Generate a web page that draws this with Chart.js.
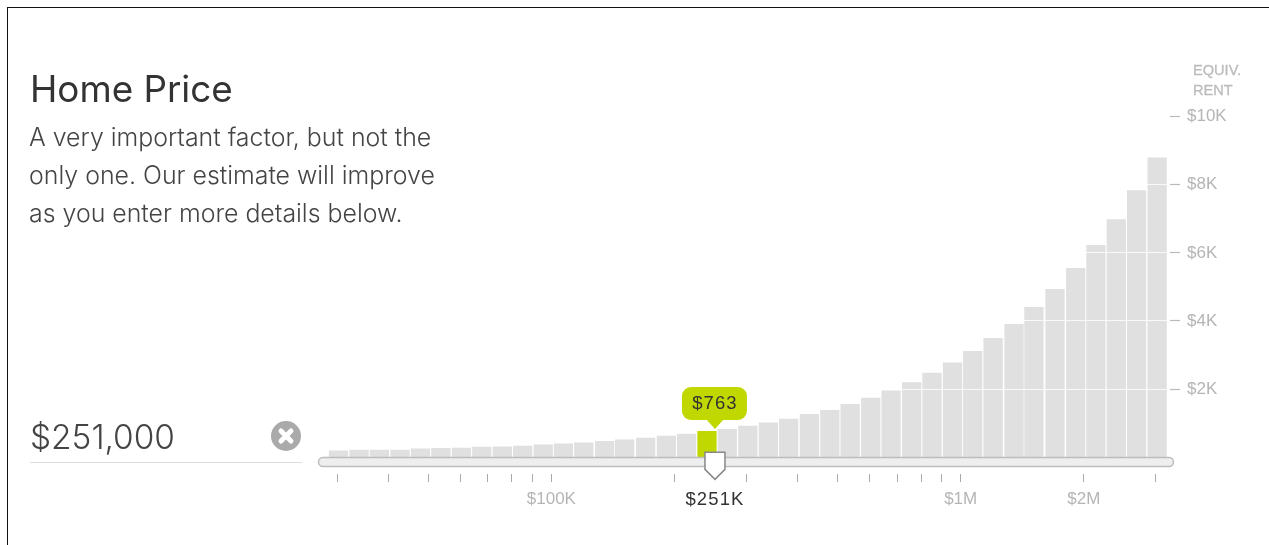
<!DOCTYPE html>
<html>
<head>
<meta charset="utf-8">
<title>Home Price</title>
<script src="https://cdn.jsdelivr.net/npm/chart.js@4"></script>
<style>
html, body { margin: 0; padding: 0; background: #fff; overflow: hidden; }
#wrap { position: relative; width: 1269px; height: 545px; }
#chart { position: absolute; left: 0; top: 0; }
#frame { position: absolute; left: 7px; top: 7px; right: 0; bottom: 0; border-left: 1px solid #111; border-top: 1px solid #111; }
#title { position: absolute; left: 30px; top: 66px; font: 400 36.8px Inter, sans-serif; color: #333; white-space: nowrap; }
#desc { position: absolute; left: 29px; top: 118px; font: 300 24.9px/38px Inter, sans-serif; color: #444; white-space: nowrap; }
#price { position: absolute; left: 30px; top: 417px; font: 300 33.4px Inter, sans-serif; color: #444; }
#rule { position: absolute; left: 30px; top: 462px; width: 272px; height: 1px; background: #ddd; }
#clear { position: absolute; left: 271px; top: 421px; }
#rent { position: absolute; left: 1193px; top: 60px; font: 400 14.6px/20px "Liberation Sans", sans-serif; color: #bbb; -webkit-text-stroke: 0.3px #bbb; }
</style>
</head>
<body>
<div id="wrap">
  <canvas id="chart" width="1269" height="545"></canvas>
  <div id="frame"></div>
  <div id="title">Home Price</div>
  <div id="desc">A very important factor, but not the<br>only one. Our estimate will improve<br>as you enter more details below.</div>
  <div id="price">$251,000</div>
  <div id="rule"></div>
  <svg id="clear" width="30" height="30" viewBox="0 0 30 30">
    <circle cx="15" cy="15" r="15" fill="#aaa"/>
    <path d="M10 10 L20 20 M20 10 L10 20" stroke="#fff" stroke-width="5" stroke-linecap="round"/>
  </svg>
  <div id="rent">EQUIV.<br>RENT</div>
</div>
<script>
// bin centres along the price slider
const priceBins = [30200, 33900, 38000, 42700, 47900, 53700, 60300, 67600, 75900, 85100,
  95500, 107000, 120000, 135000, 151000, 170000, 191000, 214000, 240000, 269000,
  302000, 339000, 380000, 427000, 479000, 537000, 603000, 676000, 759000, 851000,
  955000, 1070000, 1200000, 1350000, 1510000, 1700000, 1910000, 2140000, 2400000, 2690000, 3020000];
const rentValues = [193, 214, 214, 214, 252, 264, 272, 302, 310, 331,
  369, 398, 428, 469, 515, 565, 624, 682, 763, 820,
  917, 1013, 1122, 1259, 1376, 1552, 1737, 1950, 2196, 2469,
  2770, 3113, 3493, 3903, 4400, 4929, 5543, 6217, 6978, 7827, 8785];
const priceTicks = [30000, 40000, 50000, 60000, 70000, 80000, 90000, 100000, 200000, 300000,
  400000, 500000, 600000, 700000, 800000, 900000, 1000000, 2000000, 3000000];
const priceTickLabels = { 100000: '$100K', 1000000: '$1M', 2000000: '$2M' };
const rentTicks = [2000, 4000, 6000, 8000, 10000];
const rentTickLabels = ['$2K', '$4K', '$6K', '$8K', '$10K'];
const selectedPrice = 251000;
const selectedBin = 18;
const selectedLabel = '$251K';
const selectedRent = '$763';

const GREEN = '#c0d800';
const GREY = '#e0e0e0';

// slider track, handle and the little rent bubble
const sliderPlugin = {
  id: 'slider',
  afterDraw(chart) {
    const c = chart.ctx;
    const xs = chart.scales.x, ys = chart.scales.y;
    const hx = xs.getPixelForValue(selectedPrice);
    const y0 = ys.getPixelForValue(0);

    c.save();
    c.beginPath();
    c.roundRect(318.5, y0 + 0.2, 855, 9, 4.5);
    c.fillStyle = '#eeeeee';
    c.fill();
    c.lineWidth = 1.5;
    c.strokeStyle = '#bdbdbd';
    c.stroke();

    c.beginPath();
    c.moveTo(hx - 10, y0 - 5);
    c.lineTo(hx + 10, y0 - 5);
    c.lineTo(hx + 10, y0 + 12);
    c.lineTo(hx, y0 + 22);
    c.lineTo(hx - 10, y0 + 12);
    c.closePath();
    c.fillStyle = '#fff';
    c.fill();
    c.lineWidth = 1.5;
    c.strokeStyle = '#888';
    c.stroke();

    c.beginPath();
    c.roundRect(hx - 33, 387, 65, 33, 9);
    c.fillStyle = GREEN;
    c.fill();
    c.beginPath();
    c.moveTo(hx - 9, 419);
    c.lineTo(hx + 9, 419);
    c.lineTo(hx, 429);
    c.closePath();
    c.fill();

    c.textAlign = 'center';
    c.textBaseline = 'middle';
    c.font = '18.5px "Liberation Sans", sans-serif';
    c.letterSpacing = '1.1px';
    c.fillStyle = '#333';
    c.fillText(selectedRent, hx, 404);
    c.fillText(selectedLabel, hx, 500);
    c.restore();
  }
};

new Chart(document.getElementById('chart'), {
  type: 'bar',
  data: {
    labels: priceBins,
    datasets: [{
      data: rentValues,
      backgroundColor: rentValues.map((v, i) => i === selectedBin ? GREEN : GREY),
      barThickness: 18.6,
      borderWidth: 0
    }]
  },
  options: {
    responsive: false,
    animation: false,
    devicePixelRatio: 1,
    layout: { padding: { left: 328, top: 116.5, right: 0, bottom: 0 } },
    plugins: { legend: { display: false }, tooltip: { enabled: false } },
    scales: {
      x: {
        type: 'logarithmic',
        offset: false,
        min: 28465,
        max: 3246200,
        afterBuildTicks: s => { s.ticks = priceTicks.map(v => ({ value: v })); },
        afterFit: s => { s.height = 71; },
        border: { display: false },
        grid: { offset: false, drawOnChartArea: false, tickLength: 8, tickColor: '#aaa', tickWidth: 1 },
        ticks: {
          autoSkip: false,
          maxRotation: 0,
          padding: 7,
          color: '#b5b5b5',
          font: { family: '"Liberation Sans", sans-serif', size: 17 },
          callback: v => priceTickLabels[v] || ''
        }
      },
      y: {
        position: 'right',
        min: -489,
        max: 10000,
        afterBuildTicks: s => { s.ticks = rentTicks.map(v => ({ value: v })); },
        afterFit: s => { s.width = 99; },
        border: { display: false },
        grid: { color: 'rgba(255,255,255,0.8)', lineWidth: 1, z: 1, tickLength: 10, tickColor: '#bbb', tickWidth: 1.2 },
        ticks: {
          autoSkip: false,
          padding: 7,
          color: '#b5b5b5',
          font: { family: '"Liberation Sans", sans-serif', size: 17 },
          callback: v => rentTickLabels[rentTicks.indexOf(v)]
        }
      }
    }
  },
  plugins: [sliderPlugin]
});
</script>
</body>
</html>
